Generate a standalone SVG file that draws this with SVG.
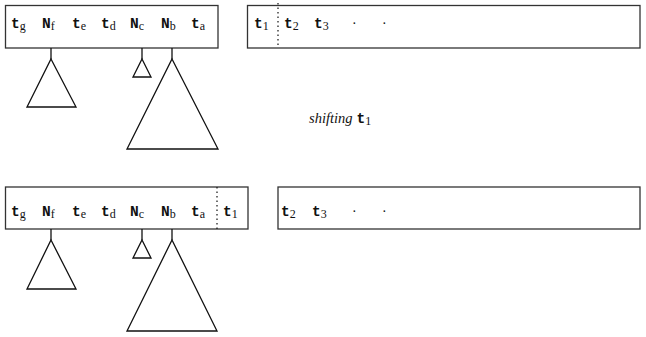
<svg xmlns="http://www.w3.org/2000/svg" width="646" height="337" viewBox="0 0 646 337">
<style>
.box{fill:#fff;stroke:#333;stroke-width:1.3}
.ln{fill:none;stroke:#111;stroke-width:1.3}
.tri{fill:#fff;stroke:#111;stroke-width:1.3;stroke-linejoin:miter}
.dot{fill:none;stroke:#111;stroke-width:1.2;stroke-dasharray:1.5 3}
text{fill:#111;font-family:"Liberation Serif",serif;font-size:12px}
.m{font-family:"Liberation Mono",monospace;font-weight:bold;font-size:14.5px}
.s{font-family:"Liberation Serif",serif;font-size:12px}
.d{font-family:"Liberation Serif",serif;font-size:14px}
.i{font-family:"Liberation Serif",serif;font-style:italic;font-size:14.5px}
</style>
<rect width="646" height="337" fill="#fff"/>
<g id="row1-left">
<rect class="box" x="5.5" y="5.5" width="212.5" height="42.5"/>
<text x="11" y="28"><tspan class="m">t</tspan><tspan class="s" dy="1.5">g</tspan></text>
<text x="42" y="28"><tspan class="m">N</tspan><tspan class="s" dy="1.5">f</tspan></text>
<text x="72" y="28"><tspan class="m">t</tspan><tspan class="s" dy="1.5">e</tspan></text>
<text x="101" y="28"><tspan class="m">t</tspan><tspan class="s" dy="1.5">d</tspan></text>
<text x="130" y="28"><tspan class="m">N</tspan><tspan class="s" dy="1.5">c</tspan></text>
<text x="161" y="28"><tspan class="m">N</tspan><tspan class="s" dy="1.5">b</tspan></text>
<text x="191" y="28"><tspan class="m">t</tspan><tspan class="s" dy="1.5">a</tspan></text>
</g>
<g id="row1-right">
<rect class="box" x="247.5" y="5.5" width="392.5" height="42.5"/>
<text x="254" y="28"><tspan class="m">t</tspan><tspan class="s" dy="1.5">1</tspan></text>
<text x="284" y="28"><tspan class="m">t</tspan><tspan class="s" dy="1.5">2</tspan></text>
<text x="314" y="28"><tspan class="m">t</tspan><tspan class="s" dy="1.5">3</tspan></text>
<text x="352" y="28" class="d">·</text>
<text x="382" y="28" class="d">·</text>
</g>
<g id="row1-trees">
<path class="tri" d="M51 59 L76 107 L27 107 Z"/>
<path class="tri" d="M142 59 L151 77 L133 77 Z"/>
<path class="tri" d="M172 59 L218 149 L127 149 Z"/>
</g>
<g id="label">
<text x="309" y="123"><tspan class="i">shifting</tspan><tspan class="m" dx="4">t</tspan><tspan class="s" dy="1.5">1</tspan></text>
</g>
<g id="row2-left">
<rect class="box" x="5.5" y="187" width="242.5" height="42"/>
<text x="11" y="216"><tspan class="m">t</tspan><tspan class="s" dy="1.5">g</tspan></text>
<text x="42" y="216"><tspan class="m">N</tspan><tspan class="s" dy="1.5">f</tspan></text>
<text x="72" y="216"><tspan class="m">t</tspan><tspan class="s" dy="1.5">e</tspan></text>
<text x="101" y="216"><tspan class="m">t</tspan><tspan class="s" dy="1.5">d</tspan></text>
<text x="130" y="216"><tspan class="m">N</tspan><tspan class="s" dy="1.5">c</tspan></text>
<text x="161" y="216"><tspan class="m">N</tspan><tspan class="s" dy="1.5">b</tspan></text>
<text x="191" y="216"><tspan class="m">t</tspan><tspan class="s" dy="1.5">a</tspan></text>
<text x="223" y="216"><tspan class="m">t</tspan><tspan class="s" dy="1.5">1</tspan></text>
</g>
<g id="row2-right">
<rect class="box" x="278" y="187" width="362" height="42"/>
<text x="281" y="216"><tspan class="m">t</tspan><tspan class="s" dy="1.5">2</tspan></text>
<text x="312" y="216"><tspan class="m">t</tspan><tspan class="s" dy="1.5">3</tspan></text>
<text x="352" y="216" class="d">·</text>
<text x="382" y="216" class="d">·</text>
</g>
<g id="row2-trees">
<path class="tri" d="M51 240 L76 289 L27 289 Z"/>
<path class="tri" d="M142 240 L151 258 L133 258 Z"/>
<path class="tri" d="M172 240 L217 331 L127 331 Z"/>
</g>
<g id="connectors">
<line class="ln" x1="51" y1="48" x2="51" y2="59"/>
<line class="ln" x1="142" y1="48" x2="142" y2="59"/>
<line class="ln" x1="172" y1="48" x2="172" y2="59"/>
<line class="ln" x1="51" y1="229" x2="51" y2="240"/>
<line class="ln" x1="142" y1="229" x2="142" y2="240"/>
<line class="ln" x1="172" y1="229" x2="172" y2="240"/>
<line class="dot" x1="278" y1="3" x2="278" y2="48"/>
<line class="dot" x1="217" y1="187" x2="217" y2="229"/>
</g>
</svg>
